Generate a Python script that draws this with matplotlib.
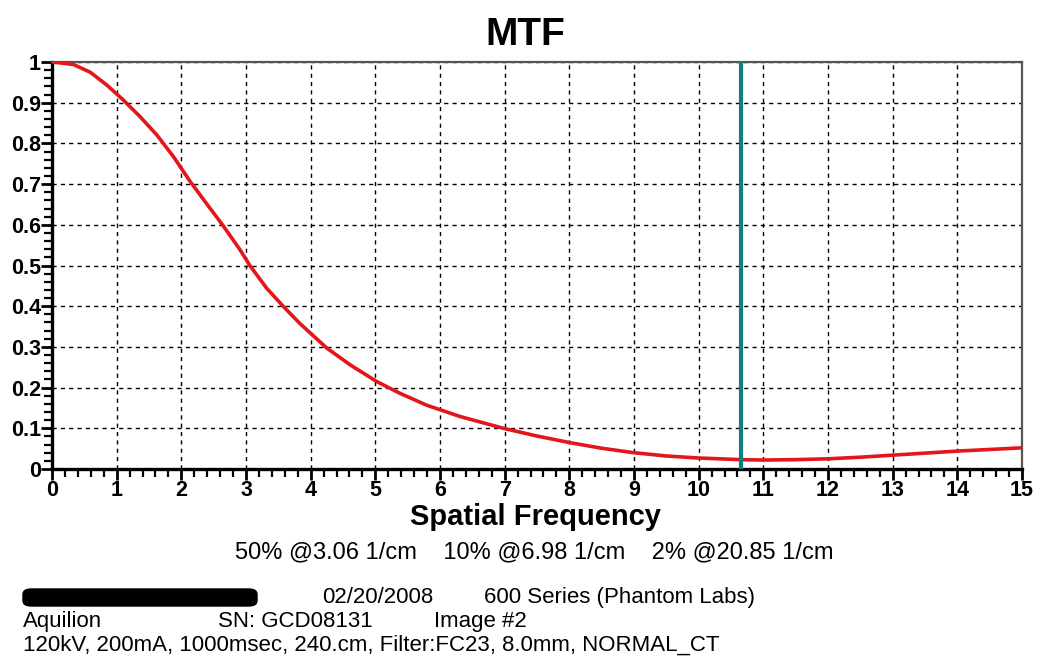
import numpy as np
import matplotlib.pyplot as plt
from matplotlib.patches import FancyBboxPatch
from matplotlib.ticker import MultipleLocator


# MTF curve samples (spatial frequency in 1/cm)
freq = [0.0, 0.33, 0.59, 0.85, 1.10, 1.36, 1.62, 1.88, 2.13, 2.39, 2.65, 2.91, 3.06,
        3.32, 3.58, 3.83, 4.25, 4.61, 5.02, 5.38, 5.79, 6.31, 6.98, 7.5, 8.0, 8.5,
        9.0, 9.5, 10.0, 10.65, 11.0, 11.5, 12.0, 12.5, 13.0, 13.5, 14.0, 14.5, 15.0]
mtf = [1.0, 0.994, 0.975, 0.943, 0.907, 0.866, 0.821, 0.767, 0.708, 0.652, 0.597, 0.538, 0.50,
       0.444, 0.399, 0.358, 0.297, 0.256, 0.215, 0.186, 0.157, 0.129, 0.10, 0.081, 0.065, 0.051,
       0.040, 0.032, 0.027, 0.023, 0.022, 0.023, 0.025, 0.029, 0.034, 0.039, 0.044, 0.048, 0.052]

cursor_freq = 10.65

# Summary points: percent level -> frequency
summary_levels = [50, 10, 2]
summary_freqs = [3.06, 6.98, 20.85]

scan_date = "02/20/2008"
phantom = "600 Series (Phantom Labs)"
scanner = "Aquilion"
serial = "SN: GCD08131"
image_no = "Image #2"
protocol = "120kV, 200mA, 1000msec, 240.cm, Filter:FC23, 8.0mm, NORMAL_CT"

plt.rcParams['font.family'] = ['Liberation Sans', 'DejaVu Sans']

W, H = 1038, 659
fig = plt.figure(figsize=(W / 100, H / 100), dpi=100)
ax = fig.add_axes([52 / W, 1 - 469 / H, 970 / W, 407 / H])

ax.plot(freq, mtf, color="#e3161b", linewidth=2.6, zorder=3,
        solid_joinstyle="round", solid_capstyle="round")
ax.axvline(cursor_freq, color="#0a8080", linewidth=3.0, zorder=4)

ax.set_xlim(0, 15)
ax.set_ylim(0, 1)
ax.xaxis.set_major_locator(MultipleLocator(1))
ax.xaxis.set_minor_locator(MultipleLocator(0.2))
ax.yaxis.set_minor_locator(MultipleLocator(0.02))
ax.set_yticks(np.arange(0, 1.01, 0.1))
ax.set_yticklabels(["0", "0.1", "0.2", "0.3", "0.4", "0.5", "0.6", "0.7", "0.8", "0.9", "1"])

ax.grid(True, which="major", color="black", linestyle=(0, (3, 3)), linewidth=1.0)

ax.tick_params(which="major", direction="out", length=8, width=2, labelsize=15.5, pad=0)
ax.tick_params(which="minor", direction="out", length=6, width=1.6)
for lbl in ax.get_xticklabels() + ax.get_yticklabels():
    lbl.set_fontweight("bold")

ax.spines["left"].set_linewidth(2.4)
ax.spines["bottom"].set_linewidth(2.4)
for side in ["top", "right"]:
    ax.spines[side].set_color("#555555")
    ax.spines[side].set_linewidth(1.6)

fig.text(525 / W, 1 - 45 / H, "MTF", ha="center", va="baseline",
         fontsize=28, fontweight="bold")
fig.text(536 / W, 1 - 525 / H, "Spatial Frequency", ha="center", va="baseline",
         fontsize=21, fontweight="bold")

summary = "    ".join(f"{lvl}% @{f:.2f} 1/cm" for lvl, f in zip(summary_levels, summary_freqs))
fig.text(534 / W, 1 - 558 / H, summary, ha="center", va="baseline", fontsize=17)

# Redaction block over the site name
fig.patches.append(FancyBboxPatch((23 / W, 1 - 606 / H), 234 / W, 17 / H,
                                  boxstyle="round,pad=0.0,rounding_size=0.008",
                                  transform=fig.transFigure, facecolor="black",
                                  edgecolor="black"))

info_size = 16
fig.text(322 / W, 1 - 603 / H, scan_date, va="baseline", fontsize=info_size)
fig.text(484 / W, 1 - 603 / H, phantom, va="baseline", fontsize=info_size)
fig.text(23 / W, 1 - 627 / H, scanner, va="baseline", fontsize=info_size)
fig.text(218 / W, 1 - 627 / H, serial, va="baseline", fontsize=info_size)
fig.text(434 / W, 1 - 627 / H, image_no, va="baseline", fontsize=info_size)
fig.text(23 / W, 1 - 651 / H, protocol, va="baseline", fontsize=info_size)

fig.savefig("out.png", dpi=100)
